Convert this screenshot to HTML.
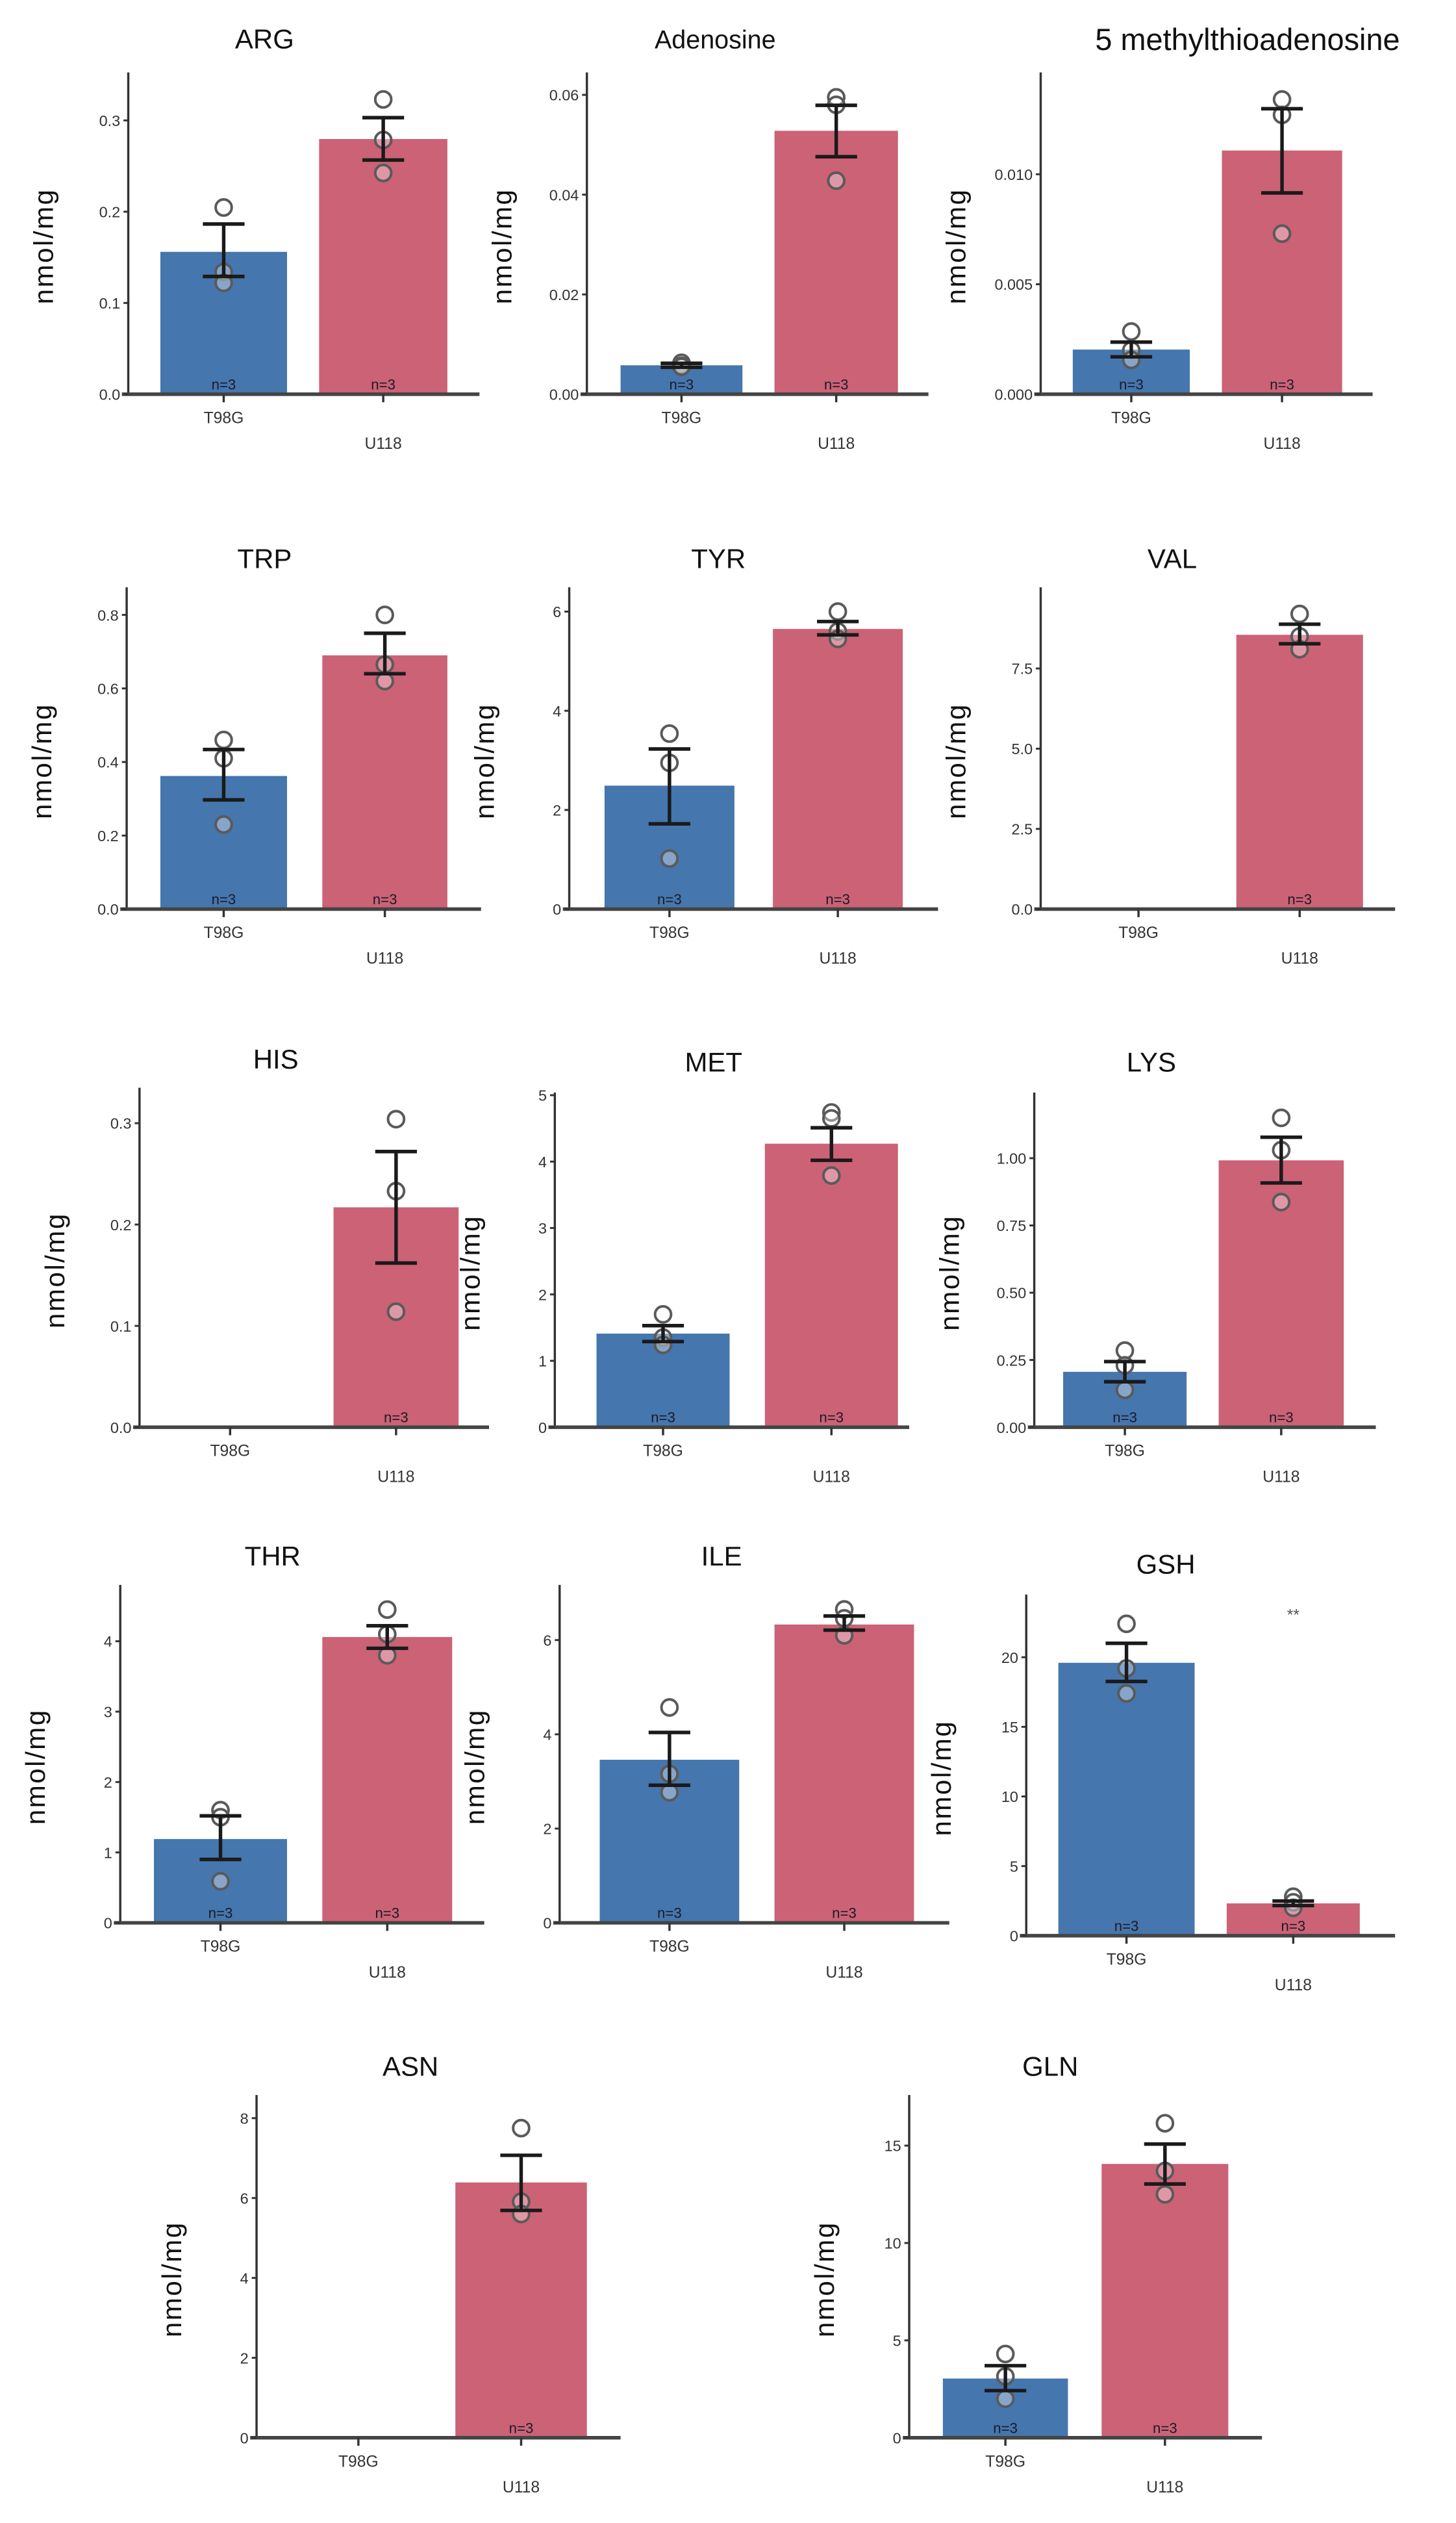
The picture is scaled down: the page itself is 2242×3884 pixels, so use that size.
<!DOCTYPE html>
<html><head><meta charset="utf-8"><style>
html,body{margin:0;padding:0;background:#fff;}
svg{display:block;}
text{font-family:"Liberation Sans",Arial,sans-serif;}
</style></head><body>
<svg id="fig" width="2242" height="3884" viewBox="0 0 908 1568" preserveAspectRatio="none" xmlns="http://www.w3.org/2000/svg"></svg>
<script>
const titles = ["ARG","Adenosine","5 methylthioadenosine","TRP","TYR","VAL","HIS","MET","LYS","THR","ILE","GSH","ASN","GLN"];
const yMaxes = [0.3526,0.0645,0.01463,0.875,6.49,10.03,0.335,5.04,1.244,4.8,7.17,24.5,8.58,17.6];
const tickValues = [[0,0.1,0.2,0.3],[0,0.02,0.04,0.06],[0,0.005,0.01],[0,0.2,0.4,0.6,0.8],[0,2,4,6],[0,2.5,5,7.5],[0,0.1,0.2,0.3],[0,1,2,3,4,5],[0,0.25,0.5,0.75,1],[0,1,2,3,4],[0,2,4,6],[0,5,10,15,20],[0,2,4,6,8],[0,5,10,15]];
const tickLabels = [["0.0","0.1","0.2","0.3"],["0.00","0.02","0.04","0.06"],["0.000","0.005","0.010"],["0.0","0.2","0.4","0.6","0.8"],["0","2","4","6"],["0.0","2.5","5.0","7.5"],["0.0","0.1","0.2","0.3"],["0","1","2","3","4","5"],["0.00","0.25","0.50","0.75","1.00"],["0","1","2","3","4"],["0","2","4","6"],["0","5","10","15","20"],["0","2","4","6","8"],["0","5","10","15"]];
const t98gMean = [0.156,0.0058,0.00203,0.362,2.49,null,null,1.41,0.206,1.19,3.46,19.6,null,3.04];
const t98gErrLow = [0.129,0.0054,0.0017,0.297,1.72,null,null,1.29,0.169,0.9,2.92,18.26,null,2.42];
const t98gErrHigh = [0.1865,0.0062,0.00237,0.434,3.23,null,null,1.53,0.244,1.52,4.04,21.0,null,3.7];
const t98gPoints = [[0.2046,0.134,0.122],[0.0063,0.0057,0.0055],[0.00285,0.002,0.00156],[0.46,0.41,0.23],[3.54,2.95,1.02],[],[],[1.7,1.35,1.24],[0.285,0.23,0.139],[1.6,1.5,0.59],[4.57,3.16,2.77],[22.4,19.2,17.4],[],[4.3,3.15,2.0]];
const u118Mean = [0.2796,0.0528,0.01108,0.69,5.65,8.55,0.217,4.27,0.992,4.06,6.33,2.32,6.39,14.06];
const u118ErrLow = [0.2566,0.0476,0.00915,0.64,5.53,8.27,0.162,4.02,0.908,3.9,6.21,2.16,5.69,13.03];
const u118ErrHigh = [0.303,0.0579,0.01298,0.75,5.8,8.88,0.272,4.51,1.078,4.22,6.51,2.49,7.07,15.08];
const u118Points = [[0.323,0.2786,0.2424],[0.0595,0.058,0.0428],[0.0134,0.0127,0.0073],[0.8,0.665,0.62],[6.0,5.6,5.45],[9.2,8.5,8.1],[0.304,0.233,0.114],[4.74,4.65,3.79],[1.15,1.03,0.837],[4.45,4.1,3.8],[6.65,6.46,6.1],[2.8,2.4,2.0],[7.75,5.91,5.6],[16.15,13.7,12.5]];
const annotations = ["","","","","","","","","","","","**","",""];

// layout (pixel geometry in 908x1568 viewBox)
const layout = [
 {ax:80,top:45,bot:245,xe:299,b:[100,179],r:[199,279],tx:165,ty:30,ts:17},
 {ax:366,top:45,bot:245,xe:579,b:[387,463],r:[483,560],tx:446,ty:30,ts:16},
 {ax:649,top:45,bot:245,xe:856,b:[669,742],r:[762,837],tx:778,ty:31,ts:19},
 {ax:79,top:365,bot:565,xe:300,b:[100,179],r:[201,279],tx:165,ty:353,ts:17},
 {ax:355,top:365,bot:565,xe:585,b:[377,458],r:[482,563],tx:448,ty:353,ts:17},
 {ax:649,top:365,bot:565,xe:870,b:[669,751],r:[771,850],tx:731,ty:353,ts:17},
 {ax:87,top:676,bot:887,xe:305,b:[104,183],r:[208,286],tx:172,ty:664,ts:17},
 {ax:346,top:679,bot:887,xe:567,b:[372,455],r:[477,560],tx:445,ty:666,ts:17},
 {ax:645,top:679,bot:887,xe:858,b:[663,740],r:[760,838],tx:718,ty:666,ts:17},
 {ax:75,top:985,bot:1195,xe:302,b:[96,179],r:[201,282],tx:170,ty:973,ts:17},
 {ax:349,top:985,bot:1195,xe:592,b:[374,461],r:[483,570],tx:450,ty:973,ts:17},
 {ax:640,top:991,bot:1203,xe:870,b:[660,745],r:[765,848],tx:727,ty:978,ts:17},
 {ax:160,top:1302,bot:1515,xe:387,b:[185,262],r:[284,366],tx:256,ty:1290,ts:17},
 {ax:567,top:1302,bot:1515,xe:787,b:[588,666],r:[687,766],tx:655,ty:1290,ts:17}
];
const BLUE="#4576ad", RED="#cc6275";
const svg=document.getElementById('fig');
const NS="http://www.w3.org/2000/svg";
function mk(tag,attrs,parent){const e=document.createElementNS(NS,tag);for(const k in attrs)e.setAttribute(k,attrs[k]);(parent||svg).appendChild(e);return e;}

titles.forEach((t,i)=>{
  const L=layout[i];
  const g=mk('g',{});
  
  
  const y=v=>L.bot-(v/yMaxes[i])*(L.bot-L.top);
  // title
  const tt=mk('text',{x:L.tx,y:L.ty,'text-anchor':'middle','font-size':L.ts,fill:'#111'},g);
  tt.textContent=t;
  
  
  // y label
  const yl=mk('text',{x:0,y:0,'text-anchor':'middle','font-size':17,fill:'#111','letter-spacing':'1',transform:`translate(${L.ax-47},${(L.top+L.bot)/2+8}) rotate(-90)`},g);
  yl.textContent='nmol/mg';
  
  
  // bars
  const bars=[[t98gMean[i],L.b,BLUE,'bar-t98g'],[u118Mean[i],L.r,RED,'bar-u118']];
  bars.forEach(([v,xr,c,nm])=>{
    if(v===null)return;
    const r=mk('rect',{x:xr[0],y:y(v),width:xr[1]-xr[0],height:L.bot-y(v),fill:c},g);
    
    
    const n=mk('text',{x:(xr[0]+xr[1])/2,y:L.bot-3,'text-anchor':'middle','font-size':9,fill:'#1a1a2a'},g);
    n.textContent='n=3';
    
    
  });
  // points
  const pts=[[t98gPoints[i],L.b,BLUE],[u118Points[i],L.r,RED]];
  pts.forEach(([arr,xr,c])=>{
    arr.forEach(v=>{
      const cc=mk('circle',{cx:(xr[0]+xr[1])/2,cy:y(v),r:5,fill:'rgba(255,255,255,0.35)',stroke:'#5a5a5a','stroke-width':1.6},g);
      
      
    });
  });
  // error bars
  const errs=[[t98gErrLow[i],t98gErrHigh[i],L.b],[u118ErrLow[i],u118ErrHigh[i],L.r]];
  errs.forEach(([lo,hi,xr])=>{
    if(lo===null)return;
    const cx=(xr[0]+xr[1])/2;
    const e=mk('path',{d:`M${cx},${y(lo)}V${y(hi)}M${cx-13},${y(lo)}H${cx+13}M${cx-13},${y(hi)}H${cx+13}`,stroke:'#1a1a1a','stroke-width':2.2,fill:'none'},g);
    
    
  });
  // axes
  const ya=mk('line',{x1:L.ax,y1:L.top,x2:L.ax,y2:L.bot,stroke:'#333','stroke-width':1.4},g);
  
  
  const xa=mk('line',{x1:L.ax-4,y1:L.bot,x2:L.xe,y2:L.bot,stroke:'#444','stroke-width':2.2},g);
  
  
  tickValues[i].forEach((v,k)=>{
    mk('line',{x1:L.ax-3,y1:y(v),x2:L.ax,y2:y(v),stroke:'#333','stroke-width':1.2},g);
    const tl=mk('text',{x:L.ax-5,y:y(v)+3.5,'text-anchor':'end','font-size':9.5,fill:'#333'},g);
    tl.textContent=tickLabels[i][k];
    
    
  });
  // x ticks & labels
  [[L.b,'T98G',15],[L.r,'U118',31]].forEach(([xr,lab,dy])=>{
    const cx=(xr[0]+xr[1])/2;
    mk('line',{x1:cx,y1:L.bot,x2:cx,y2:L.bot+5,stroke:'#333','stroke-width':1.4},g);
    const xl=mk('text',{x:cx,y:L.bot+dy+3,'text-anchor':'middle','font-size':10,fill:'#333'},g);
    xl.textContent=lab;
    
    
  });
  if(annotations[i]){
    const cx=(L.r[0]+L.r[1])/2;
    const a=mk('text',{x:cx,y:L.top+16,'text-anchor':'middle','font-size':10,fill:'#555'},g);
    a.textContent=annotations[i];
    
    
  }
});
</script>
</body></html>
